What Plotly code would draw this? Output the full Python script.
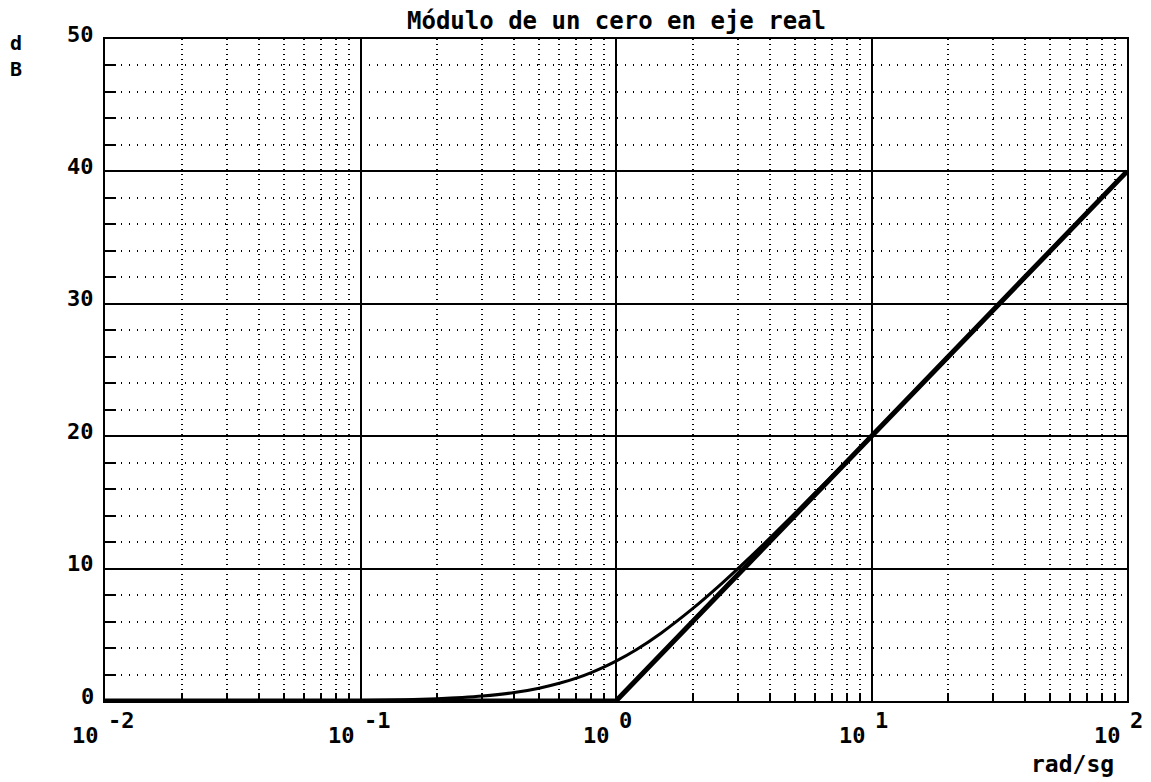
import plotly.graph_objects as go
import math

# Frequency axis (rad/sg) and magnitude (dB) of a real-axis zero
freq_exact = [0.01, 0.05, 0.1, 0.15, 0.2, 0.25, 0.3, 0.4, 0.5, 0.6, 0.7, 0.8, 0.9,
              1.0, 1.2, 1.5, 2.0, 2.5, 3.0, 4.0, 5.0, 6.0, 8.0, 10.0, 15.0, 20.0,
              30.0, 50.0, 100.0]
db_exact = [0.0, 0.01, 0.04, 0.1, 0.17, 0.26, 0.37, 0.64, 0.97, 1.34, 1.73, 2.15, 2.58,
            3.01, 3.87, 5.12, 6.99, 8.6, 10.0, 12.3, 14.15, 15.7, 18.1, 20.04, 23.5, 26.0,
            29.5, 34.0, 40.0]

# Straight-line asymptotes
freq_asym = [0.01, 1.0, 100.0]
db_asym = [0.0, 0.0, 40.0]

# Axis ticks
x_major = [0.01, 0.1, 1, 10, 100]
x_exponents = ["-2", "-1", "0", "1", "2"]
x_minor = [m * d for d in [0.01, 0.1, 1, 10] for m in range(2, 10)]
y_major = [0, 10, 20, 30, 40, 50]
y_minor = [v for v in range(2, 50, 2) if v % 10 != 0]

X_LOG_RANGE = [-2, 2]
FONT = "DejaVu Sans Mono"

fig = go.Figure()
fig.add_trace(go.Scatter(x=freq_exact, y=db_exact, mode="lines",
                         line=dict(color="black", width=3, shape="spline"),
                         cliponaxis=False, showlegend=False, hoverinfo="skip"))
fig.add_trace(go.Scatter(x=freq_asym, y=db_asym, mode="lines",
                         line=dict(color="black", width=5),
                         cliponaxis=False, showlegend=False, hoverinfo="skip"))

fig.update_xaxes(type="log", range=X_LOG_RANGE, tickmode="array", tickvals=x_major,
                 showticklabels=False, ticks="", showgrid=True, gridcolor="black",
                 gridwidth=2, showline=True, linecolor="black", linewidth=2,
                 mirror=True, zeroline=False,
                 minor=dict(tickmode="array", tickvals=x_minor, showgrid=True,
                            gridcolor="black", gridwidth=1.5, griddash="1px,4px",
                            ticks="inside", ticklen=8, tickwidth=2, tickcolor="black"))
fig.update_yaxes(range=[0, 50], tickmode="array", tickvals=y_major,
                 showticklabels=False, ticks="", showgrid=True, gridcolor="black",
                 gridwidth=2, showline=True, linecolor="black", linewidth=2,
                 mirror=True, zeroline=False,
                 minor=dict(tickmode="array", tickvals=y_minor, showgrid=True,
                            gridcolor="black", gridwidth=1.5, griddash="1px,7px",
                            ticks="inside", ticklen=11, tickwidth=2, tickcolor="black"))


def x_paper(v):
    # position of a frequency as a fraction of the log x axis
    lo, hi = X_LOG_RANGE
    return (math.log10(v) - lo) / (hi - lo)


annotations = []
lab_font = dict(family=FONT, size=22, color="black", weight=700)
for i, (v, e) in enumerate(zip(x_major, x_exponents)):
    xp = x_paper(v)
    # decade label: mantissa "10" left of the tick, raised exponent right of it
    annotations.append(dict(x=xp, y=0, xref="paper", yref="paper", text="10",
                            showarrow=False, xanchor="right", yanchor="middle",
                            xshift=-4, yshift=-34, font=lab_font))
    annotations.append(dict(x=xp, y=0, xref="paper", yref="paper", text=e,
                            showarrow=False, xanchor="left", yanchor="middle",
                            xshift=1, yshift=-19, font=lab_font, name="exp%d" % i))
for v in y_major:
    annotations.append(dict(x=0, y=v, xref="paper", yref="y", text=str(v),
                            showarrow=False, xanchor="right", yanchor="middle",
                            xshift=-9, yshift=5, font=lab_font))
annotations.append(dict(x=-0.087, y=1.0, xref="paper", yref="paper", text="d<br>B",
                        showarrow=False, xanchor="center", yanchor="top", yshift=10,
                        font=dict(family=FONT, size=20, color="black", weight=700)))
annotations.append(dict(x=1.0, y=0, xref="paper", yref="paper", text="rad/sg",
                        showarrow=False, xanchor="right", yanchor="middle",
                        xshift=-11, yshift=-63, font=dict(family=FONT, size=23,
                                                          color="black", weight=700)))
annotations.append(dict(x=0.5, y=1.0, xref="paper", yref="paper",
                        text="Módulo de un cero en eje real", showarrow=False,
                        xanchor="center", yanchor="middle", yshift=18,
                        font=dict(family=FONT, size=24, color="black", weight=700)))

fig.update_layout(width=1151, height=782, margin=dict(l=105, r=24, t=39, b=81),
                  paper_bgcolor="white", plot_bgcolor="white", hovermode=False,
                  annotations=annotations, showlegend=False)

fig.write_html("out.html", config={"displayModeBar": False})
